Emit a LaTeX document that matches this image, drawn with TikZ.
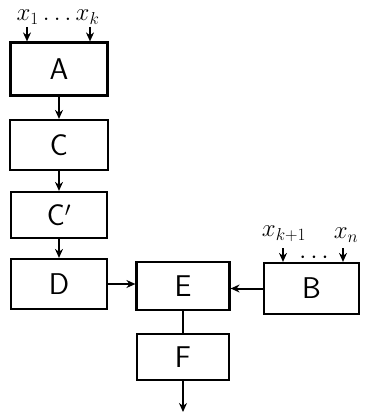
\documentclass[tikz,border=0pt]{standalone}
\usetikzlibrary{arrows.meta}
\begin{document}
\begin{tikzpicture}[x=1pt,y=-1pt,
  blk/.style={draw,line width=2.2pt,inner sep=0pt,font=\sffamily\fontsize{30}{32}\selectfont},
  arr/.style={line width=2pt,-{Stealth[length=9pt,width=8pt]}},
  ln/.style={line width=2pt},
  lab/.style={inner sep=0pt,font=\fontsize{24}{26}\selectfont}]
\useasboundingbox (0,0) rectangle (371,414);
\node[blk,minimum width=97pt,minimum height=53pt] (A) at (59,69) {A};
\node[blk,minimum width=98pt,minimum height=50pt] (C) at (59,145) {C};
\node[blk,minimum width=96pt,minimum height=46pt] (Cp) at (59,215) {C$'$};
\node[blk,minimum width=96pt,minimum height=50pt] (D) at (59,284) {D};
\node[blk,minimum width=93pt,minimum height=48pt] (E) at (183,286) {E};
\node[blk,minimum width=95pt,minimum height=51pt] (B) at (311.5,288.5) {B};
\node[blk,minimum width=92pt,minimum height=46pt] (F) at (183,357) {F};
\draw[arr] (A) -- (C);
\draw[arr] (C) -- (Cp);
\draw[arr] (Cp) -- (D);
\draw[arr] (D.east) -- (D.east -| E.west);
\draw[arr] (B.west) -- (B.west -| E.east);
\draw[ln] (E) -- (F);
\coordinate (out) at (183,412);
\draw[arr] (F) -- (out);
% inputs of A
\node[lab] (xa) at (58,17) {$x_1\ldots x_k$};
\coordinate (a1) at (27,27);
\coordinate (a2) at (90,27);
\draw[arr] (a1) -- (a1 |- A.north);
\draw[arr] (a2) -- (a2 |- A.north);
% inputs of B
\node[lab] (xk1) at (284,234) {$x_{k+1}$};
\node[lab] (xn) at (346,235) {$x_n$};
\node[lab] (dots) at (314,258) {$\cdots$};
\coordinate (b1) at (283,248);
\coordinate (b2) at (343,248);
\draw[arr] (b1) -- (b1 |- B.north);
\draw[arr] (b2) -- (b2 |- B.north);
\end{tikzpicture}
\end{document}
